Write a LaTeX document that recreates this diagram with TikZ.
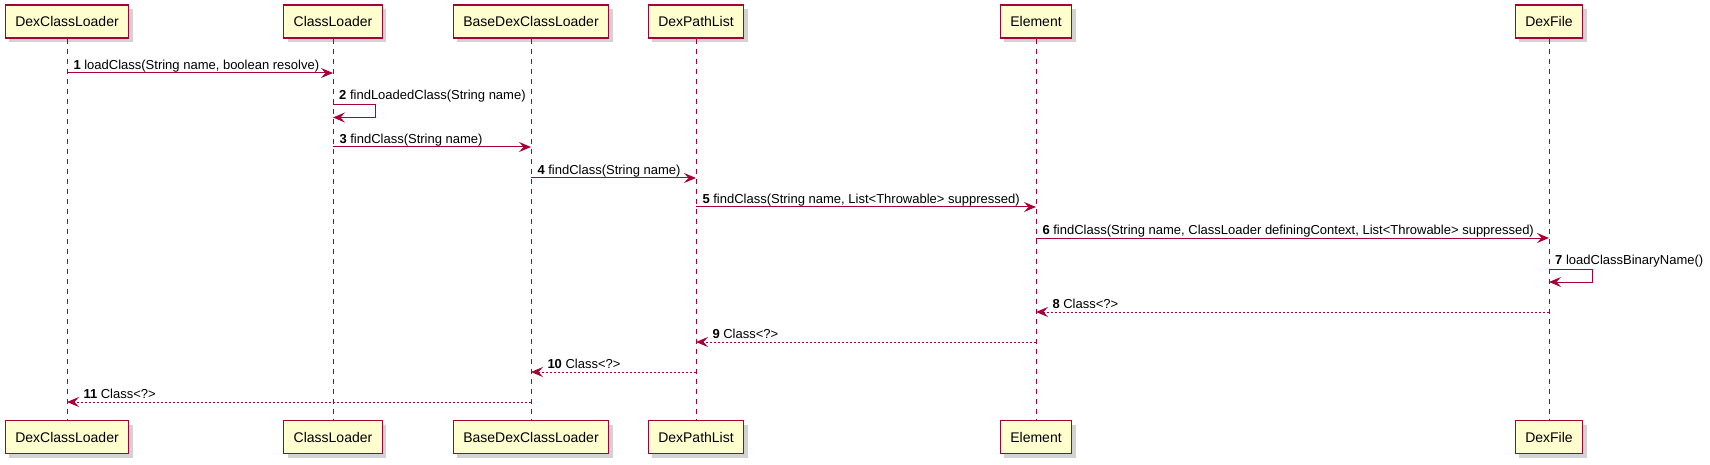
\documentclass[tikz,border=0pt]{standalone}
\usepackage{fontspec}
\setmainfont{Liberation Sans}
\usetikzlibrary{arrows.meta,shadows}
\definecolor{umlred}{HTML}{A80036}
\definecolor{umlfill}{HTML}{FEFECE}
\tikzset{
  actor/.style={draw=umlred, line width=1.3pt, fill=umlfill, minimum height=33pt,
    inner xsep=10pt, font=\fontsize{14}{16}\selectfont,
    drop shadow={shadow xshift=4pt, shadow yshift=-4pt, opacity=0.35, fill=gray}},
  life/.style={draw=umlred, line width=0.8pt, dash pattern=on 5pt off 5pt},
  msg/.style={draw=umlred, line width=1pt, -{Stealth[length=12pt,width=10pt,inset=4.5pt]}},
  ret/.style={msg, dash pattern=on 2pt off 2pt},
  lbl/.style={font=\fontsize{13}{15}\selectfont, inner sep=0pt, anchor=base west},
}
\begin{document}
\begin{tikzpicture}[x=1pt,y=-1pt]
    \useasboundingbox (0,0) rectangle (1710,465);
    % participants, top and bottom
    \node[actor] (dcl) at (67,21.5) {DexClassLoader};
    \node[actor] (cl) at (333,21.5) {ClassLoader};
    \node[actor] (bdcl) at (531,21.5) {BaseDexClassLoader};
    \node[actor] (dpl) at (696,21.5) {DexPathList};
    \node[actor] (el) at (1036,21.5) {Element};
    \node[actor] (df) at (1549,21.5) {DexFile};
    \node[actor] (dclb) at (67,437) {DexClassLoader};
    \node[actor] (clb) at (333,437) {ClassLoader};
    \node[actor] (bdclb) at (531,437) {BaseDexClassLoader};
    \node[actor] (dplb) at (696,437) {DexPathList};
    \node[actor] (elb) at (1036,437) {Element};
    \node[actor] (dfb) at (1549,437) {DexFile};
    % lifelines
    \draw[life] (dcl) -- (dclb);
    \draw[life] (cl) -- (clb);
    \draw[life] (bdcl) -- (bdclb);
    \draw[life] (dpl) -- (dplb);
    \draw[life] (el) -- (elb);
    \draw[life] (df) -- (dfb);
    % calls
    \draw[msg] (dcl |- 0,73) -- node[lbl, pos=0, xshift=6pt, yshift=3.5pt] (m1) {\textbf{1} loadClass(String name, boolean resolve)} (cl |- 0,73);
    \draw[msg] (cl |- 0,105) -- ++(42,0) -- ++(0,12.5) -- (cl |- 0,117.5);
    \node[lbl, xshift=6pt, yshift=5pt] (m2) at (cl |- 0,105) {\textbf{2} findLoadedClass(String name)};
    \draw[msg] (cl |- 0,147) -- node[lbl, pos=0, xshift=6pt, yshift=3.5pt] (m3) {\textbf{3} findClass(String name)} (bdcl |- 0,147);
    \draw[msg] (bdcl |- 0,178) -- node[lbl, pos=0, xshift=6pt, yshift=3.5pt] (m4) {\textbf{4} findClass(String name)} (dpl |- 0,178);
    \draw[msg] (dpl |- 0,207) -- node[lbl, pos=0, xshift=6pt, yshift=3.5pt] (m5) {\textbf{5} findClass(String name, List<Throwable> suppressed)} (el |- 0,207);
    \draw[msg] (el |- 0,238) -- node[lbl, pos=0, xshift=6pt, yshift=3.5pt] (m6) {\textbf{6} findClass(String name, ClassLoader definingContext, List<Throwable> suppressed)} (df |- 0,238);
    \draw[msg] (df |- 0,269) -- ++(43,0) -- ++(0,13) -- (df |- 0,282);
    \node[lbl, xshift=6pt, yshift=4.5pt] (m7) at (df |- 0,269) {\textbf{7} loadClassBinaryName()};
    % returns
    \draw[ret] (df |- 0,312) -- node[lbl, pos=1, xshift=16pt, yshift=3.5pt] (m8) {\textbf{8} Class<?>} (el |- 0,312);
    \draw[ret] (el |- 0,342) -- node[lbl, pos=1, xshift=16pt, yshift=3.5pt] (m9) {\textbf{9} Class<?>} (dpl |- 0,342);
    \draw[ret] (dpl |- 0,372) -- node[lbl, pos=1, xshift=16pt, yshift=3.5pt] (m10) {\textbf{10} Class<?>} (bdcl |- 0,372);
    \draw[ret] (bdcl |- 0,402) -- node[lbl, pos=1, xshift=16pt, yshift=3.5pt] (m11) {\textbf{11} Class<?>} (dcl |- 0,402);
\end{tikzpicture}
\end{document}
